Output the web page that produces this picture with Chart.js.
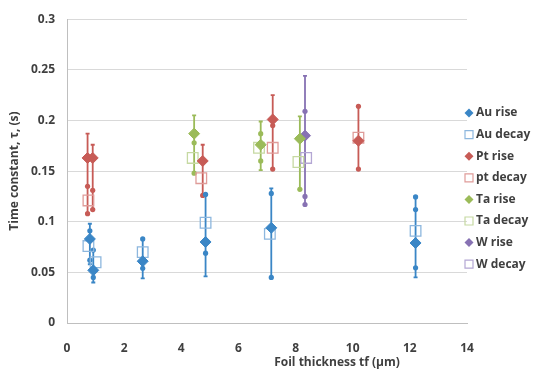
<!DOCTYPE html>
<html>
<head>
<meta charset="utf-8">
<script src="https://cdn.jsdelivr.net/npm/chart.js@4/dist/chart.umd.min.js"></script>
<style>
html,body{margin:0;padding:0;background:#fff;}
canvas{display:block;}
</style>
</head>
<body>
<canvas id="c" width="535" height="376"></canvas>
<script>
// ---- data ----
const auRiseX = [0.8, 0.92, 2.65, 4.85, 7.15, 12.2];
const auRiseY = [0.083, 0.052, 0.061, 0.080, 0.094, 0.079];
const auRiseLo = [0.058, 0.040, 0.044, 0.046, 0.045, 0.045];
const auRiseHi = [0.098, 0.072, 0.083, 0.127, 0.133, 0.125];
const auDotX = [0.8, 0.8, 0.92, 0.92, 2.65, 2.65, 4.85, 4.85, 7.15, 7.15, 12.2, 12.2, 12.2];
const auDotY = [0.091, 0.062, 0.072, 0.045, 0.083, 0.054, 0.127, 0.069, 0.128, 0.045, 0.1245, 0.112, 0.0545];
const auDecayX = [0.75, 1.0, 2.65, 4.85, 7.1, 12.2];
const auDecayY = [0.076, 0.060, 0.070, 0.099, 0.088, 0.091];

const ptRiseX = [0.72, 0.9, 4.75, 7.2, 10.2];
const ptRiseY = [0.163, 0.163, 0.160, 0.201, 0.180];
const ptRiseLo = [0.108, 0.112, 0.126, 0.152, 0.152];
const ptRiseHi = [0.187, 0.176, 0.176, 0.225, 0.214];
const ptDotX = [0.72, 0.72, 0.9, 0.9, 4.75, 7.2, 7.2, 10.2, 10.2];
const ptDotY = [0.135, 0.108, 0.131, 0.112, 0.126, 0.195, 0.152, 0.214, 0.152];
const ptDecayX = [0.75, 4.7, 7.2, 10.2];
const ptDecayY = [0.121, 0.143, 0.173, 0.183];

const taRiseX = [4.45, 6.78, 8.15];
const taRiseY = [0.187, 0.176, 0.182];
const taRiseLo = [0.148, 0.151, 0.132];
const taRiseHi = [0.205, 0.199, 0.204];
const taDotX = [4.45, 4.45, 6.78, 6.78, 8.15];
const taDotY = [0.178, 0.148, 0.187, 0.160, 0.132];
const taDecayX = [4.4, 6.72, 8.1];
const taDecayY = [0.163, 0.173, 0.159];

const wRiseX = [8.33];
const wRiseY = [0.185];
const wRiseLo = [0.117];
const wRiseHi = [0.244];
const wDotX = [8.33, 8.33, 8.33];
const wDotY = [0.209, 0.125, 0.117];
const wDecayX = [8.37];
const wDecayY = [0.163];

const seriesLabels = ["Au rise", "Au decay", "Pt rise", "pt decay", "Ta rise", "Ta decay", "W rise", "W decay"];

// ---- styles ----
const C = {
  au: '#3a86c6', auL: '#8db7de',
  pt: '#c75b56', ptL: '#df9c99',
  ta: '#9bbb59', taL: '#c6d9a2',
  w: '#8772b3', wL: '#b4a7d4'
};
const pts = (xs, ys) => xs.map((x, i) => ({x: x, y: ys[i]}));

function rise(label, xs, ys, col) {
  return {label, data: pts(xs, ys), pointStyle: 'rectRot', pointRadius: 5.5, pointHoverRadius: 5.5,
    backgroundColor: col, borderColor: col, borderWidth: 1, showLine: false, _legend: true, _kind: 'rise'};
}
function decay(label, xs, ys, col) {
  return {label, data: pts(xs, ys), pointStyle: 'rect', pointRadius: 7.5, pointHoverRadius: 7.5,
    backgroundColor: 'rgba(0,0,0,0)', borderColor: col, borderWidth: 1.3, showLine: false, _legend: true, _kind: 'decay'};
}
function dots(xs, ys, col) {
  return {label: '', data: pts(xs, ys), pointStyle: 'circle', pointRadius: 2.6, pointHoverRadius: 2.6,
    backgroundColor: col, borderColor: col, borderWidth: 0, showLine: false, _legend: false};
}

const errorBars = [
  {xs: auRiseX, lo: auRiseLo, hi: auRiseHi, col: C.au},
  {xs: ptRiseX, lo: ptRiseLo, hi: ptRiseHi, col: C.pt},
  {xs: taRiseX, lo: taRiseLo, hi: taRiseHi, col: C.ta},
  {xs: wRiseX, lo: wRiseLo, hi: wRiseHi, col: C.w}
];

const datasets = [
  rise(seriesLabels[0], auRiseX, auRiseY, C.au),
  decay(seriesLabels[1], auDecayX, auDecayY, C.auL),
  rise(seriesLabels[2], ptRiseX, ptRiseY, C.pt),
  decay(seriesLabels[3], ptDecayX, ptDecayY, C.ptL),
  rise(seriesLabels[4], taRiseX, taRiseY, C.ta),
  decay(seriesLabels[5], taDecayX, taDecayY, C.taL),
  rise(seriesLabels[6], wRiseX, wRiseY, C.w),
  decay(seriesLabels[7], wDecayX, wDecayY, C.wL),
  dots(auDotX, auDotY, C.au),
  dots(ptDotX, ptDotY, C.pt),
  dots(taDotX, taDotY, C.ta),
  dots(wDotX, wDotY, C.w)
];

const FONT = '"Open Sans", Lato, sans-serif';
const TXT = '#3f3f3f';

const errPlugin = {
  id: 'errbars',
  beforeDatasetsDraw(chart) {
    const ctx = chart.ctx, xs = chart.scales.x, ys = chart.scales.y;
    ctx.save();
    errorBars.forEach(s => {
      ctx.strokeStyle = s.col;
      ctx.lineWidth = 1.8;
      s.xs.forEach((x, i) => {
        const px = xs.getPixelForValue(x);
        const y1 = ys.getPixelForValue(s.lo[i]);
        const y2 = ys.getPixelForValue(s.hi[i]);
        ctx.beginPath();
        ctx.moveTo(px, y1); ctx.lineTo(px, y2);
        ctx.moveTo(px - 2, y1); ctx.lineTo(px + 2, y1);
        ctx.moveTo(px - 2, y2); ctx.lineTo(px + 2, y2);
        ctx.stroke();
      });
    });
    ctx.restore();
  },
  afterDraw(chart) {
    const ctx = chart.ctx, a = chart.chartArea;
    ctx.save();
    // axis titles
    ctx.fillStyle = TXT;
    ctx.font = 'bold 12px ' + FONT;
    ctx.textAlign = 'center';
    ctx.textBaseline = 'middle';
    ctx.fillText('Foil thickness tf (µm)', 337, 363);
    ctx.translate(15, (a.top + a.bottom) / 2);
    ctx.rotate(-Math.PI / 2);
    ctx.fillText('Time constant, τ, (s)', 0, 0);
    ctx.restore();
    // legend
    ctx.save();
    ctx.font = 'bold 12px ' + FONT;
    ctx.textAlign = 'left';
    ctx.textBaseline = 'middle';
    let i = 0;
    chart.data.datasets.forEach(ds => {
      if (!ds._legend) return;
      const cy = 113 + i * 21.6, cx = 469;
      ctx.beginPath();
      if (ds._kind === 'rise') {
        const r = 4.5;
        ctx.moveTo(cx, cy - r); ctx.lineTo(cx + r, cy); ctx.lineTo(cx, cy + r); ctx.lineTo(cx - r, cy); ctx.closePath();
        ctx.fillStyle = ds.backgroundColor; ctx.fill();
      } else {
        ctx.rect(cx - 4, cy - 4, 8, 8);
        ctx.strokeStyle = ds.borderColor; ctx.lineWidth = 1.2; ctx.stroke();
      }
      ctx.fillStyle = TXT;
      ctx.fillText(ds.label, 476, cy);
      i++;
    });
    ctx.restore();
  }
};

new Chart(document.getElementById('c'), {
  type: 'scatter',
  data: {datasets},
  plugins: [errPlugin],
  options: {
    responsive: false,
    devicePixelRatio: 1,
    animation: false,
    layout: {padding: {left: 0, right: 68, top: 5, bottom: 0}},
    plugins: {legend: {display: false}, tooltip: {enabled: false}},
    scales: {
      x: {
        type: 'linear', min: 0, max: 14,
        ticks: {stepSize: 2, color: TXT, font: {family: FONT, size: 12, weight: 'bold'}, padding: 18},
        grid: {display: false, drawTicks: false},
        border: {display: true, color: '#bfbfbf', width: 1},
        afterFit(s) { s.height = 53; }
      },
      y: {
        type: 'linear', min: 0, max: 0.3,
        ticks: {stepSize: 0.05, color: TXT, font: {family: FONT, size: 12, weight: 'bold'}, padding: 12,
          callback: v => String(Math.round(v * 100) / 100)},
        grid: {color: '#d9d9d9', drawTicks: false},
        border: {display: true, color: '#bfbfbf', width: 1},
        afterFit(s) { s.width = 67; }
      }
    }
  }
});
</script>
</body>
</html>
